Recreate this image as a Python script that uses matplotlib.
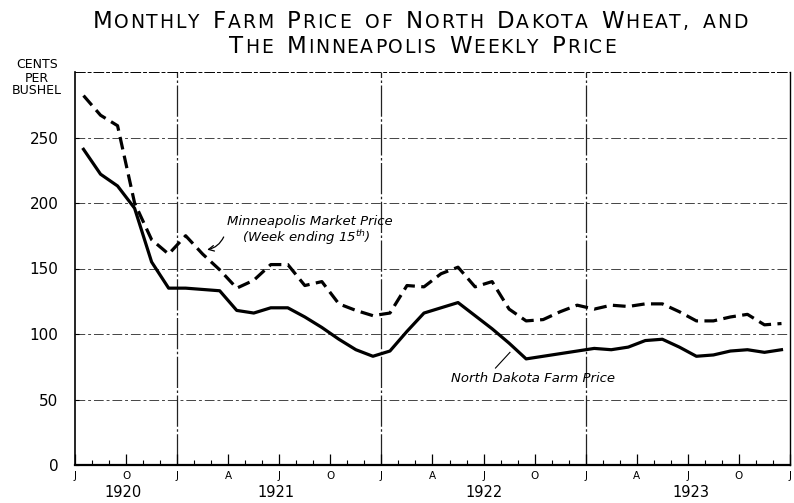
import numpy as np
import matplotlib
matplotlib.use("Agg")
from matplotlib import pyplot as plt
from matplotlib.offsetbox import TextArea, HPacker, AnnotationBbox

plt.rcParams['font.family'] = ['DejaVu Sans']

# monthly values, July 1920 .. December 1923 (cents per bushel)
farm_price = [241, 222, 213, 196, 155, 135, 135, 134, 133, 118, 116, 120,
              120, 113, 105, 96, 88, 83, 87, 102, 116, 120, 124, 114,
              104, 93, 81, 83, 85, 87, 89, 88, 90, 95, 96, 90,
              83, 84, 87, 88, 86, 88]
mpls_price = [282, 267, 259, 200, 172, 161, 175, 161, 149, 135, 141, 153,
              153, 137, 140, 123, 118, 114, 116, 137, 136, 146, 151, 136,
              140, 119, 110, 111, 117, 122, 119, 122, 121, 123, 123, 117,
              110, 110, 113, 115, 107, 108]

quarter_labels = ['J', 'O', 'J', 'A', 'J', 'O', 'J', 'A', 'J', 'O', 'J', 'A', 'J', 'O', 'J']
years = ['1920', '1921', '1922', '1923']
year_pos = [2.8, 11.8, 24.0, 36.2]
jan_lines = [6, 18, 30]
y_ticks = [0, 50, 100, 150, 200, 250]

x = np.arange(len(farm_price)) + 0.5

fig = plt.figure(figsize=(7.94, 5.03), dpi=100)
ax = fig.add_axes([75/794, 38/503, 715/794, 393/503])

ax.plot(x, farm_price, color='black', lw=2.3, solid_joinstyle='round')
ax.plot(x, mpls_price, color='black', lw=2.3, dashes=(4, 2))

ax.set_xlim(0, 42)
ax.set_ylim(0, 300)

grid_style = (0, (10, 3, 3, 3))
for v in y_ticks[1:]:
    ax.axhline(v, color='#444444', lw=0.7, ls=grid_style, zorder=0)
for m in jan_lines:
    ax.axvline(m, color='#222222', lw=0.9, ls=(0, (25, 2, 2, 2)), zorder=0)

ax.spines['top'].set_linestyle(grid_style)
ax.spines['top'].set_linewidth(0.7)
ax.spines['right'].set_linewidth(1.0)
ax.spines['left'].set_linewidth(1.2)
ax.spines['bottom'].set_linewidth(1.6)

ax.set_xticks(np.arange(0, 43, 3))
ax.set_xticklabels(quarter_labels)
ax.set_xticks(np.arange(0, 43, 1), minor=True)
ax.tick_params(axis='x', which='major', direction='in', length=8, width=0.9,
               labelsize=7.5, pad=4)
ax.tick_params(axis='x', which='minor', direction='in', length=3.5, width=0.8)
ax.set_yticks(y_ticks)
ax.tick_params(axis='y', direction='in', length=3, width=0.8, labelsize=11, pad=12)

for yr, p in zip(years, year_pos):
    ax.text(p, -0.069, yr, transform=ax.get_xaxis_transform(), ha='center',
            va='center', fontsize=10.5)

fig.text(37/794, 1 - 78/503, 'CENTS\nPER\nBUSHEL', ha='center', va='center',
         fontsize=9, linespacing=1.0)

ax.text(13.8, 186, 'Minneapolis Market Price', style='italic', fontsize=9.5,
        ha='center', va='center')
ax.text(13.6, 174, r'(Week ending 15$^{th}$)', style='italic', fontsize=9.5,
        ha='center', va='center')
ax.annotate('', xy=(7.6, 164), xytext=(8.8, 176),
            arrowprops=dict(arrowstyle='->', lw=0.9, color='black',
                            connectionstyle='arc3,rad=-0.3'))

ax.text(26.9, 66, 'North Dakota Farm Price', style='italic', fontsize=9.5,
        ha='center', va='center')
ax.plot([24.7, 25.55], [74, 86], color='black', lw=0.8)


def small_caps(text, big, small, gap=1.2, word_gap=10):
    words = []
    for w in text.split():
        parts = []
        for i, ch in enumerate(w):
            size = big if (i == 0 and ch.isupper()) else small
            parts.append(TextArea(ch.upper(), textprops=dict(size=size)))
        words.append(HPacker(children=parts, sep=gap, pad=0, align='baseline'))
    return HPacker(children=words, sep=word_gap, pad=0, align='baseline')


for line, (cx, cy) in [('Monthly Farm Price of North Dakota Wheat, and', (0.529, 0.958)),
                       ('The Minneapolis Weekly Price', (0.532, 0.908))]:
    box = small_caps(line, 16.5, 13.5)
    ab = AnnotationBbox(box, (cx, cy), xycoords='figure fraction', frameon=False,
                        box_alignment=(0.5, 0.5), pad=0)
    fig.add_artist(ab)

fig.savefig('out.png', dpi=100)
